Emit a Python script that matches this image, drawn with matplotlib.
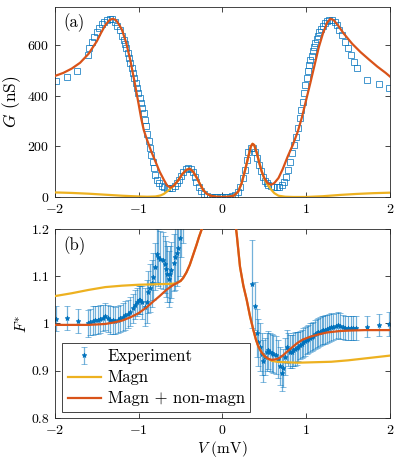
import numpy as np
import matplotlib
matplotlib.use("Agg")
import matplotlib.pyplot as plt

plt.rcParams['font.family'] = 'cmr10'
plt.rcParams['mathtext.fontset'] = 'cm'
plt.rcParams['axes.unicode_minus'] = False
plt.rcParams['axes.formatter.use_mathtext'] = True

BLUE = '#0072BD'
ORANGE = '#D95319'
YELLOW = '#EDB120'

# ---- panel (a): conductance ----
v_exp = [-1.99, -1.86, -1.74, -1.61, -1.59, -1.56, -1.53, -1.50, -1.47, -1.44, -1.41, -1.375,
         -1.34, -1.32, -1.28, -1.256, -1.22, -1.196, -1.18, -1.16, -1.15, -1.13, -1.116, -1.10,
         -1.084, -1.07, -1.053, -1.036, -1.02, -1.005, -0.99, -0.973, -0.958, -0.94, -0.925,
         -0.91, -0.898, -0.882, -0.866, -0.85, -0.834, -0.818, -0.80, -0.78, -0.755, -0.726,
         -0.70, -0.666, -0.635, -0.603, -0.57, -0.54, -0.516, -0.49, -0.468, -0.44, -0.41,
         -0.38, -0.356, -0.332, -0.31, -0.284, -0.253, -0.22, -0.19, -0.15, -0.12, -0.09,
         -0.06, -0.03, 0.0, 0.03, 0.06, 0.09, 0.12, 0.153, 0.185, 0.21, 0.24, 0.265, 0.29,
         0.31, 0.337, 0.36, 0.385, 0.41, 0.433, 0.457, 0.48, 0.505, 0.53, 0.55, 0.583, 0.615,
         0.647, 0.678, 0.71, 0.734, 0.758, 0.78, 0.806, 0.83, 0.854, 0.878, 0.90, 0.925, 0.94,
         0.957, 0.973, 0.99, 1.005, 1.02, 1.035, 1.05, 1.065, 1.08, 1.095, 1.11, 1.125, 1.14,
         1.156, 1.176, 1.196, 1.22, 1.244, 1.275, 1.307, 1.34, 1.364, 1.395, 1.427, 1.46,
         1.50, 1.535, 1.57, 1.61, 1.73, 1.865, 1.99]
g_exp = [458, 474, 497, 560, 587, 611, 633, 653, 668, 683, 692, 699,
         703, 701, 692, 676, 658, 637, 620, 603, 587, 567, 548, 528,
         508, 488, 469, 449, 429, 409, 390, 370, 350, 330, 305,
         280, 250, 220, 192, 166, 139, 113, 87, 67, 54, 45,
         38, 34, 34, 37, 43, 54, 67, 84, 100, 111, 113,
         109, 98, 80, 60, 41, 24, 12, 4, 1, 0, 0,
         0, 0, 0, 0, 0, 1, 3, 8, 21, 41, 74, 107, 146,
         179, 195, 195, 179, 153, 126, 103, 80, 63, 54, 47, 43, 41,
         39, 41, 47, 60, 80, 107, 139, 173, 205, 238, 271, 311, 343,
         376, 409, 442, 470, 497, 520, 540, 558, 575, 592, 608, 622, 636,
         650, 664, 676, 686, 694, 697, 697, 692, 679, 659, 640, 611,
         587, 561, 534, 510, 461, 445, 429]

v_fit = [-2.0, -1.9, -1.8, -1.7, -1.6, -1.5, -1.45, -1.4, -1.35, -1.31, -1.27, -1.23, -1.2,
         -1.15, -1.1, -1.05, -1.0, -0.97, -0.94, -0.9, -0.85, -0.8, -0.75, -0.7, -0.66,
         -0.62, -0.58, -0.53, -0.48, -0.43, -0.39, -0.35, -0.31, -0.27, -0.23, -0.19, -0.14,
         -0.08, 0.0, 0.08, 0.14, 0.19, 0.23, 0.27, 0.31, 0.34, 0.36, 0.38, 0.41, 0.44, 0.47,
         0.5, 0.54, 0.58, 0.62, 0.67, 0.72, 0.78, 0.84, 0.9, 0.95, 1.0, 1.05, 1.1, 1.15,
         1.2, 1.25, 1.29, 1.33, 1.38, 1.45, 1.55, 1.65, 1.75, 1.85, 1.95, 2.0]
g_fit = [478, 490, 507, 530, 565, 615, 648, 678, 698, 704, 698, 678, 660,
         610, 540, 455, 365, 310, 265, 225, 180, 140, 100, 68, 45,
         37, 45, 65, 90, 107, 112, 100, 78, 52, 28, 13, 5,
         1, 0, 1, 6, 22, 55, 105, 160, 200, 210, 205, 175, 135, 100,
         75, 55, 48, 55, 75, 110, 160, 205, 258, 315, 383, 450, 520, 590,
         645, 688, 704, 698, 678, 645, 605, 572, 543, 515, 490, 476]

v_mag = [-2.0, -1.8, -1.6, -1.4, -1.2, -1.0, -0.9, -0.8, -0.74, -0.7, -0.66, -0.62, -0.58,
         -0.53, -0.48, -0.43, -0.39, -0.35, -0.31, -0.27, -0.23, -0.19, -0.14, -0.08, 0.0,
         0.08, 0.14, 0.19, 0.23, 0.27, 0.31, 0.34, 0.36, 0.38, 0.41, 0.44, 0.47, 0.5, 0.54,
         0.58, 0.62, 0.67, 0.75, 0.85, 1.0, 1.2, 1.4, 1.6, 1.8, 2.0]
g_mag = [18, 16, 13, 9, 5, 2, 1, 2, 6, 12, 22, 33, 45,
         65, 90, 107, 112, 100, 78, 52, 28, 13, 5, 1, 0,
         1, 6, 22, 55, 105, 160, 200, 210, 205, 175, 135, 100, 72, 48,
         30, 15, 5, 1, 0, 0, 3, 8, 12, 15, 17]

# ---- panel (b): Fano factor ----
v_f = [-1.99, -1.86, -1.73, -1.61, -1.58, -1.55, -1.52, -1.49, -1.46, -1.43, -1.40, -1.37,
       -1.34, -1.31, -1.28, -1.25, -1.22, -1.19, -1.16, -1.13, -1.10, -1.07, -1.05, -1.025,
       -1.0, -0.985, -0.96, -0.93, -0.905, -0.886, -0.865, -0.845, -0.826, -0.81, -0.786,
       -0.766, -0.746, -0.71, -0.69, -0.675, -0.66, -0.642, -0.625, -0.61, -0.58, -0.565,
       -0.546, -0.527, -0.507, -0.49, -0.47,
       0.357, 0.39, 0.41, 0.43, 0.45, 0.47, 0.49, 0.51, 0.53, 0.547, 0.567, 0.587, 0.61,
       0.638, 0.66, 0.69, 0.706, 0.726, 0.746, 0.766, 0.786, 0.806, 0.826, 0.846, 0.866,
       0.886, 0.906, 0.925, 0.945, 0.965, 0.985, 1.005, 1.025, 1.045, 1.065, 1.085, 1.105,
       1.125, 1.145, 1.165, 1.185, 1.205, 1.225, 1.245, 1.27, 1.3, 1.325, 1.355, 1.383,
       1.41, 1.44, 1.47, 1.50, 1.53, 1.56, 1.6, 1.73, 1.865, 1.99]
f_exp = [1.010, 1.012, 1.005, 1.000, 1.003, 1.006, 1.007, 1.008, 1.010, 1.012, 1.015, 1.011,
         1.008, 1.007, 1.006, 1.008, 1.011, 1.014, 1.017, 1.020, 1.025, 1.032, 1.040, 1.046,
         1.050, 1.050, 1.045, 1.035, 1.046, 1.067, 1.075, 1.085, 1.099, 1.120, 1.147,
         1.140, 1.136, 1.134, 1.125, 1.115, 1.105, 1.094, 1.105, 1.113, 1.129, 1.140,
         1.150, 1.160, 1.180, 1.22, 1.25,
         1.084, 1.037, 0.980, 0.960, 0.950, 0.935, 0.921, 0.930, 0.940, 0.944, 0.940, 0.937, 0.935,
         0.933, 0.925, 0.910, 0.896, 0.905, 0.930, 0.951, 0.945, 0.940, 0.940, 0.944, 0.946,
         0.948, 0.951, 0.954, 0.957, 0.960, 0.962, 0.965, 0.967, 0.970, 0.972, 0.974, 0.977,
         0.979, 0.981, 0.983, 0.985, 0.986, 0.987, 0.988, 0.990, 0.992, 0.993, 0.995, 0.997,
         0.995, 0.993, 0.991, 0.990, 0.990, 0.990, 0.990, 0.993, 0.997, 0.999]
f_err = [0.026, 0.025, 0.025, 0.028, 0.028, 0.030, 0.030, 0.030, 0.030, 0.028, 0.028, 0.028,
         0.030, 0.030, 0.028, 0.028, 0.028, 0.030, 0.030, 0.030, 0.030, 0.030, 0.030, 0.030,
         0.030, 0.030, 0.035, 0.040, 0.045, 0.045, 0.050, 0.050, 0.050, 0.050, 0.060,
         0.060, 0.060, 0.060, 0.060, 0.060, 0.060, 0.060, 0.060, 0.060, 0.060, 0.070,
         0.070, 0.070, 0.080, 0.080, 0.080,
         0.093, 0.050, 0.050, 0.050, 0.050, 0.045, 0.045, 0.040, 0.040, 0.040, 0.040, 0.040, 0.040,
         0.040, 0.040, 0.040, 0.038, 0.040, 0.040, 0.035, 0.035, 0.035, 0.035, 0.035, 0.035,
         0.035, 0.030, 0.030, 0.030, 0.030, 0.030, 0.030, 0.030, 0.030, 0.030, 0.030, 0.030,
         0.030, 0.030, 0.030, 0.030, 0.030, 0.030, 0.030, 0.030, 0.030, 0.028, 0.028, 0.028,
         0.028, 0.025, 0.025, 0.025, 0.025, 0.025, 0.025, 0.022, 0.023, 0.025]

v_ffit = [-2.0, -1.8, -1.6, -1.5, -1.4, -1.3, -1.2, -1.1, -1.0, -0.9, -0.83, -0.75, -0.67,
          -0.6, -0.55, -0.5, -0.47, -0.43, -0.39, -0.35, -0.31, -0.28, -0.25, -0.22, -0.18,
          0.12, 0.14, 0.17, 0.21, 0.25, 0.29, 0.33, 0.37, 0.4, 0.43, 0.47, 0.51, 0.55, 0.59,
          0.63, 0.67, 0.72, 0.77, 0.83, 0.89, 0.96, 1.05, 1.15, 1.25, 1.4, 1.52, 1.7, 2.0]
f_fit = [0.997, 0.997, 0.997, 0.998, 0.999, 1.002, 1.006, 1.013, 1.022, 1.035, 1.046, 1.058, 1.071,
         1.080, 1.085, 1.090, 1.096, 1.108, 1.124, 1.145, 1.166, 1.183, 1.198, 1.215, 1.25,
         1.26, 1.23, 1.19, 1.12, 1.08, 1.05, 1.015, 0.986, 0.966, 0.951, 0.938, 0.930, 0.925, 0.923,
         0.924, 0.926, 0.932, 0.940, 0.949, 0.958, 0.966, 0.972, 0.977, 0.981, 0.984, 0.985, 0.986, 0.986]

v_fmag = [-2.0, -1.8, -1.6, -1.4, -1.2, -1.0, -0.8, -0.6, -0.55, -0.5, -0.47, -0.43, -0.39,
          -0.35, -0.31, -0.28, -0.25, -0.22, -0.18,
          0.12, 0.14, 0.17, 0.21, 0.25, 0.29, 0.33, 0.37, 0.4, 0.43, 0.47, 0.51, 0.55,
          0.59, 0.65, 0.75, 0.9, 1.1, 1.3, 1.5, 1.7, 1.85, 2.0]
f_mag = [1.058, 1.064, 1.071, 1.077, 1.080, 1.082, 1.083, 1.084, 1.085, 1.090, 1.096, 1.108, 1.124,
         1.145, 1.166, 1.183, 1.198, 1.215, 1.25,
         1.26, 1.23, 1.19, 1.12, 1.08, 1.05, 1.015, 0.986, 0.966, 0.951, 0.938, 0.930, 0.925,
         0.921, 0.919, 0.918, 0.917, 0.918, 0.919, 0.922, 0.926, 0.929, 0.932]

xticks = [-2, -1, 0, 1, 2]


def style(ax):
    for s in ax.spines.values():
        s.set_linewidth(0.6)
        s.set_color('#262626')
    ax.tick_params(direction='in', top=True, right=True, length=3.5, width=0.6,
                   labelsize=10, colors='#262626', labelcolor='black', pad=4)
    ax.set_xlim(-2, 2)
    ax.set_xticks(xticks)


fig = plt.figure(figsize=(3.97, 4.61), dpi=100)
ax1 = fig.add_axes([0.1385, 0.5727, 0.8435, 0.412])
ax2 = fig.add_axes([0.1385, 0.0933, 0.8435, 0.41])

ax1.plot(v_exp, g_exp, 's', mfc='none', mec=BLUE, ms=4, mew=0.6, alpha=0.85, zorder=2)
ax1.plot(v_mag, g_mag, '-', color=YELLOW, lw=1.6, zorder=3)
ax1.plot(v_fit, g_fit, '-', color=ORANGE, lw=1.6, zorder=4)
style(ax1)
ax1.set_ylim(0, 750)
ax1.set_yticks([0, 200, 400, 600])
ax1.set_ylabel(r'$G$ (nS)', fontsize=12.5, labelpad=3)
ax1.text(0.025, 0.965, '(a)', transform=ax1.transAxes, fontsize=12, va='top', ha='left')

eb = ax2.errorbar(v_f, f_exp, yerr=f_err, fmt='*', color=BLUE, ms=3.5, mew=0.6,
                  ecolor=(0.0, 0.447, 0.741, 0.55), elinewidth=0.9, capsize=2.5,
                  capthick=0.9, zorder=2, label='Experiment')
l_mag, = ax2.plot(v_fmag, f_mag, '-', color=YELLOW, lw=1.6, zorder=3, label='Magn')
l_fit, = ax2.plot(v_ffit, f_fit, '-', color=ORANGE, lw=1.6, zorder=4, label='Magn + non-magn')
style(ax2)
ax2.set_ylim(0.8, 1.2)
ax2.set_yticks([0.8, 0.9, 1.0, 1.1, 1.2])
ax2.set_yticklabels(['0.8', '0.9', '1', '1.1', '1.2'])
ax2.set_ylabel(r'$F^{*}$', fontsize=11, labelpad=2)
ax2.set_xlabel(r'$V$ (mV)', fontsize=11, labelpad=2)
ax2.text(0.025, 0.96, '(b)', transform=ax2.transAxes, fontsize=12, va='top', ha='left')

leg = ax2.legend(handles=[eb, l_mag, l_fit], loc='lower left', bbox_to_anchor=(0.02, 0.03),
                 fontsize=12, fancybox=False, framealpha=1, edgecolor='#262626',
                 borderpad=0.35, labelspacing=0.35, handlelength=2.0, handletextpad=0.4,
                 borderaxespad=0)
leg.get_frame().set_linewidth(0.6)

fig.savefig('out.png', dpi=100)
